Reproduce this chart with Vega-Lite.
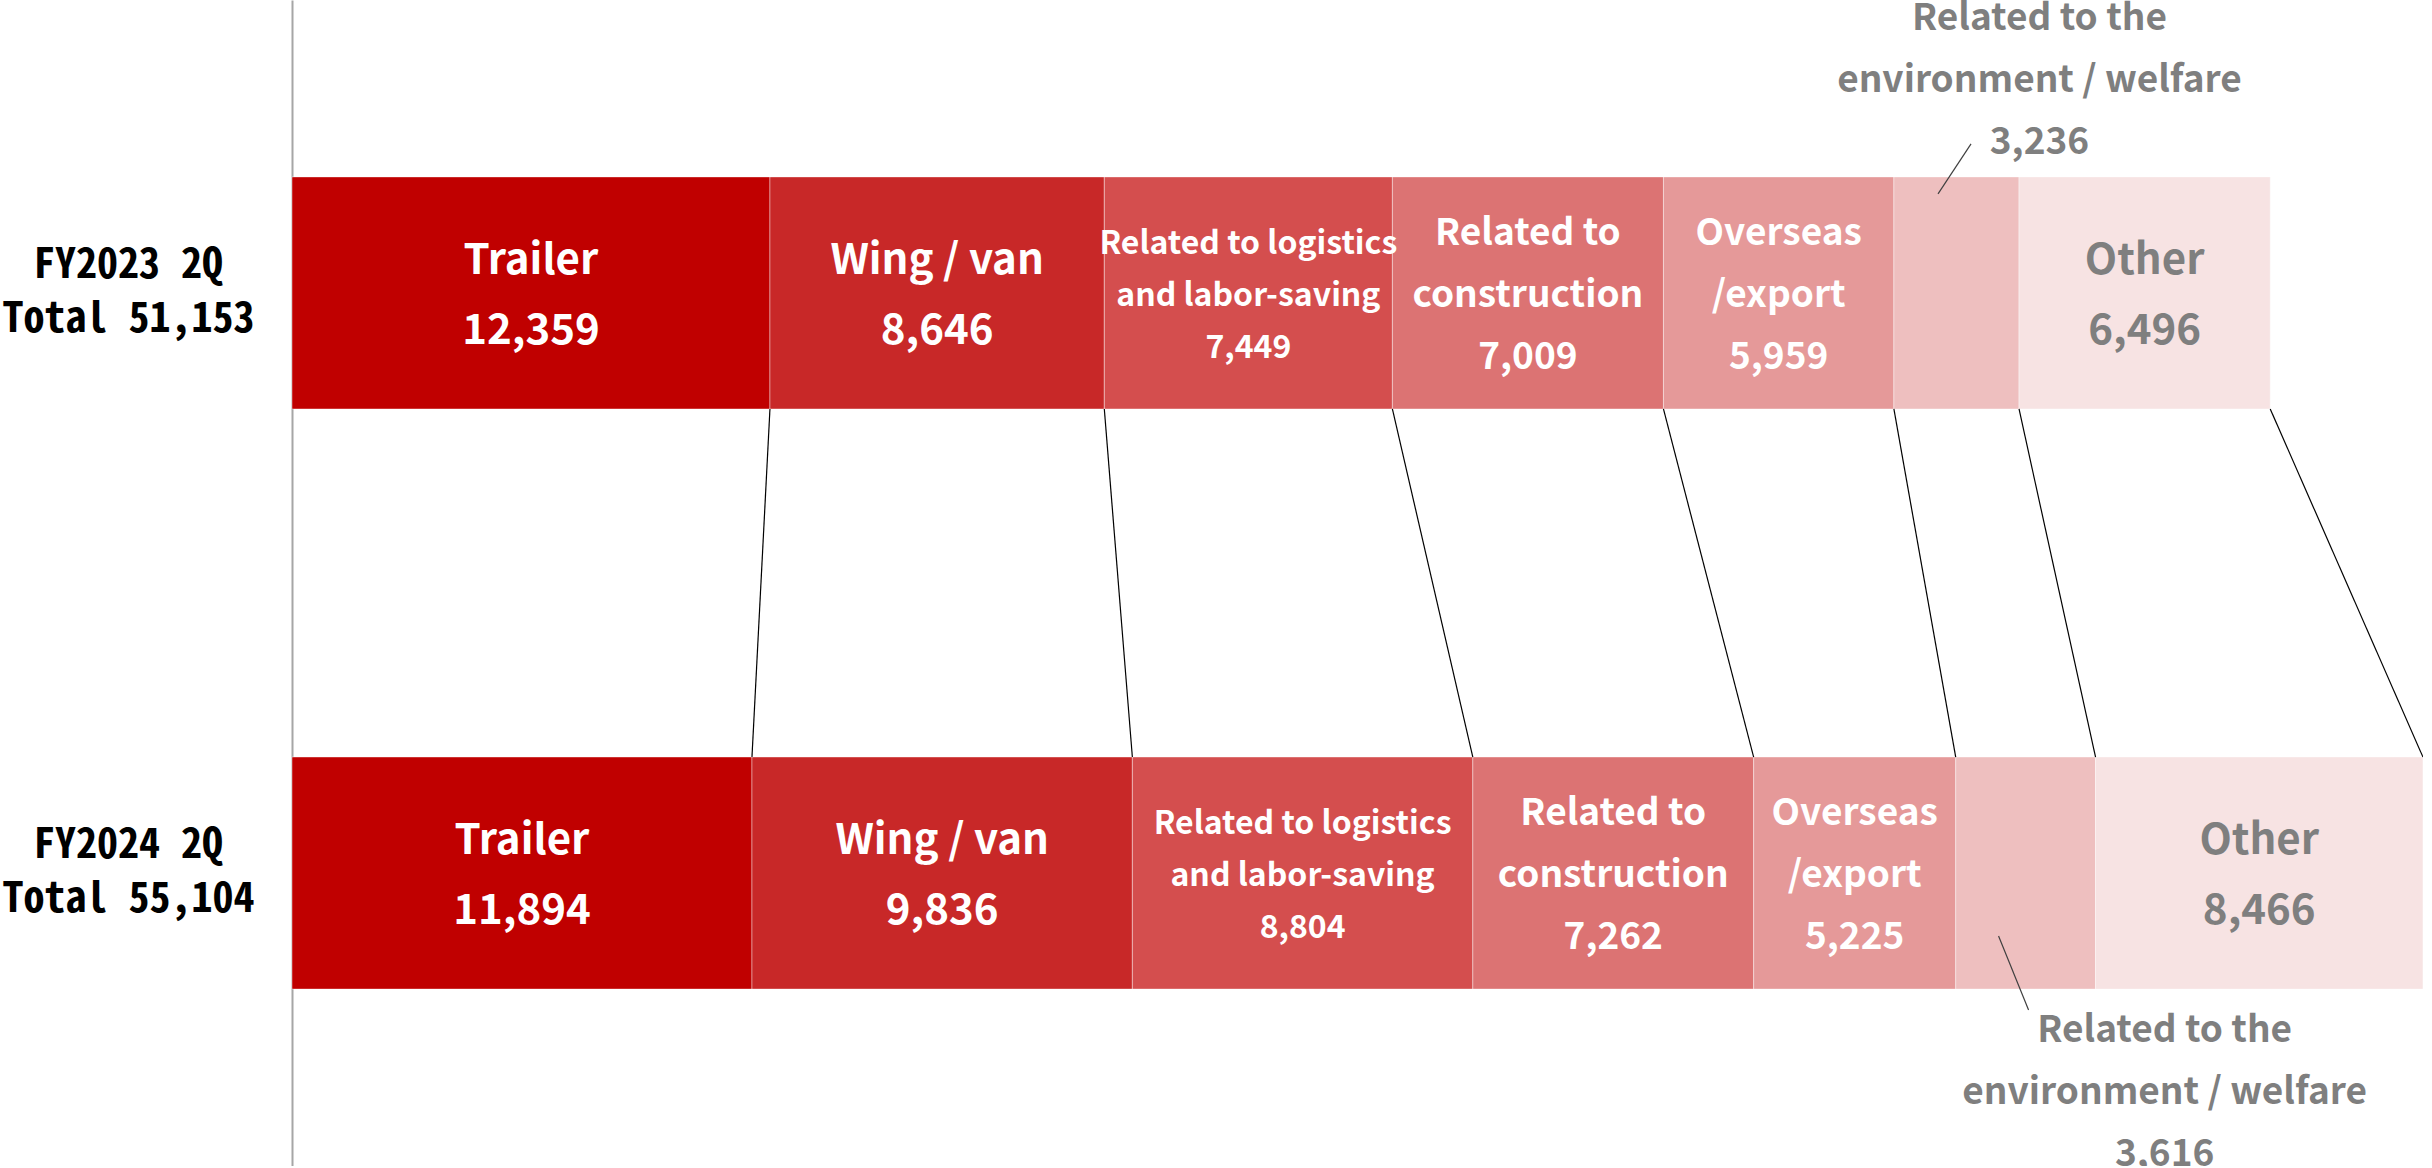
{
  "$schema": "https://vega.github.io/schema/vega-lite/v6.json",
  "width": 2131,
  "height": 1166,
  "autosize": {"type": "none"},
  "padding": {"left": 292, "top": 0, "right": 0, "bottom": 0},
  "background": "#ffffff",
  "config": {"view": {"stroke": null}},
  "data": {
    "values": [
      {"period": "FY2023 2Q", "category": "Trailer", "seq": 1, "value": 12359, "lines": ["Trailer", "12,359"]},
      {"period": "FY2023 2Q", "category": "Wing / van", "seq": 2, "value": 8646, "lines": ["Wing / van", "8,646"]},
      {"period": "FY2023 2Q", "category": "Logistics and labor-saving", "seq": 3, "value": 7449, "lines": ["Related to logistics", "and labor-saving", "7,449"]},
      {"period": "FY2023 2Q", "category": "Construction", "seq": 4, "value": 7009, "lines": ["Related to", "construction", "7,009"]},
      {"period": "FY2023 2Q", "category": "Overseas / export", "seq": 5, "value": 5959, "lines": ["Overseas", "/export", "5,959"]},
      {"period": "FY2023 2Q", "category": "Environment / welfare", "seq": 6, "value": 3236, "lines": ["Related to the", "environment / welfare", "3,236"]},
      {"period": "FY2023 2Q", "category": "Other", "seq": 7, "value": 6496, "lines": ["Other", "6,496"]},
      {"period": "FY2024 2Q", "category": "Trailer", "seq": 1, "value": 11894, "lines": ["Trailer", "11,894"]},
      {"period": "FY2024 2Q", "category": "Wing / van", "seq": 2, "value": 9836, "lines": ["Wing / van", "9,836"]},
      {"period": "FY2024 2Q", "category": "Logistics and labor-saving", "seq": 3, "value": 8804, "lines": ["Related to logistics", "and labor-saving", "8,804"]},
      {"period": "FY2024 2Q", "category": "Construction", "seq": 4, "value": 7262, "lines": ["Related to", "construction", "7,262"]},
      {"period": "FY2024 2Q", "category": "Overseas / export", "seq": 5, "value": 5225, "lines": ["Overseas", "/export", "5,225"]},
      {"period": "FY2024 2Q", "category": "Environment / welfare", "seq": 6, "value": 3616, "lines": ["Related to the", "environment / welfare", "3,616"]},
      {"period": "FY2024 2Q", "category": "Other", "seq": 7, "value": 8466, "lines": ["Other", "8,466"]}
    ]
  },
  "layer": [
    {
      "mark": {"type": "bar", "stroke": "#ffffff", "strokeWidth": 1, "strokeOpacity": 0.4},
      "encoding": {
        "y": {
          "field": "period",
          "type": "nominal",
          "scale": {"domain": ["FY2023 2Q", "FY2024 2Q"], "paddingInner": 0.6, "paddingOuter": 0.305},
          "axis": {
            "title": null,
            "domainColor": "#a6a6a6",
            "domainWidth": 2,
            "ticks": false,
            "grid": false,
            "labelFont": "Noto Sans Mono CJK JP",
            "labelFontSize": 42,
            "labelFontWeight": "bold",
            "labelColor": "#000000",
            "labelAlign": "center",
            "labelBaseline": "middle",
            "labelPadding": 164,
            "labelLineHeight": 54,
            "labelOffset": -28,
            "labelLimit": 500,
            "labelExpr": "datum.value == 'FY2023 2Q' ? ['FY2023 2Q', 'Total 51,153'] : ['FY2024 2Q', 'Total 55,104']"
          }
        },
        "x": {"field": "value", "type": "quantitative", "stack": "zero", "scale": {"domain": [0, 55104], "nice": false}, "axis": null},
        "color": {
          "field": "category",
          "type": "nominal",
          "scale": {
            "domain": ["Trailer", "Wing / van", "Logistics and labor-saving", "Construction", "Overseas / export", "Environment / welfare", "Other"],
            "range": ["#c00000", "#c82828", "#d44e4e", "#dc7373", "#e59999", "#eebfbf", "#f7e3e3"]
          },
          "legend": null
        },
        "order": {"field": "seq", "type": "quantitative"}
      }
    },
    {
      "transform": [
        {"window": [{"op": "sum", "field": "value", "as": "cum"}], "groupby": ["period"], "sort": [{"field": "seq"}], "frame": [null, 0]},
        {"pivot": "period", "value": "cum", "groupby": ["seq"]}
      ],
      "mark": {"type": "rule", "color": "#000000", "strokeWidth": 1.2},
      "encoding": {
        "x": {"field": "FY2023 2Q", "type": "quantitative"},
        "x2": {"field": "FY2024 2Q"},
        "y": {"datum": "FY2023 2Q", "type": "nominal", "bandPosition": 1},
        "y2": {"datum": "FY2024 2Q", "bandPosition": 0}
      }
    },
    {
      "transform": [
        {"window": [{"op": "sum", "field": "value", "as": "cum"}], "groupby": ["period"], "sort": [{"field": "seq"}], "frame": [null, 0]},
        {"filter": "datum.category == 'Environment / welfare' && datum.period == 'FY2023 2Q'"}
      ],
      "mark": {"type": "rule", "color": "#404040", "strokeWidth": 1.2, "xOffset": -48, "x2Offset": -81, "yOffset": -149, "y2Offset": -99},
      "encoding": {
        "x": {"field": "cum", "type": "quantitative"},
        "x2": {"field": "cum"},
        "y": {"field": "period", "type": "nominal"},
        "y2": {"field": "period"}
      }
    },
    {
      "transform": [
        {"window": [{"op": "sum", "field": "value", "as": "cum"}], "groupby": ["period"], "sort": [{"field": "seq"}], "frame": [null, 0]},
        {"filter": "datum.category == 'Environment / welfare' && datum.period == 'FY2024 2Q'"}
      ],
      "mark": {"type": "rule", "color": "#404040", "strokeWidth": 1.2, "xOffset": -97, "x2Offset": -67, "yOffset": 63, "y2Offset": 137},
      "encoding": {
        "x": {"field": "cum", "type": "quantitative"},
        "x2": {"field": "cum"},
        "y": {"field": "period", "type": "nominal"},
        "y2": {"field": "period"}
      }
    },
    {
      "mark": {"type": "text", "font": "Noto Sans CJK JP", "fontWeight": "bold", "fontSize": 42, "lineHeight": 70, "align": "center", "baseline": "middle", "dy": -32},
      "encoding": {
        "y": {"field": "period", "type": "nominal"},
        "x": {"field": "value", "type": "quantitative", "stack": "zero", "bandPosition": 0.5},
        "detail": {"field": "category", "type": "nominal"},
        "order": {"field": "seq", "type": "quantitative"},
        "text": {"condition": {"test": "indexof(['Trailer', 'Wing / van', 'Other'], datum.category) >= 0", "field": "lines", "type": "nominal"}, "value": ""},
        "color": {"condition": {"test": "datum.category == 'Other'", "value": "#7f7f7f"}, "value": "#ffffff"}
      }
    },
    {
      "mark": {"type": "text", "font": "Noto Sans CJK JP", "fontWeight": "bold", "fontSize": 37, "lineHeight": 62, "align": "center", "baseline": "middle", "color": "#ffffff", "dy": -59},
      "encoding": {
        "y": {"field": "period", "type": "nominal"},
        "x": {"field": "value", "type": "quantitative", "stack": "zero", "bandPosition": 0.5},
        "detail": {"field": "category", "type": "nominal"},
        "order": {"field": "seq", "type": "quantitative"},
        "text": {"condition": {"test": "indexof(['Construction', 'Overseas / export'], datum.category) >= 0", "field": "lines", "type": "nominal"}, "value": ""}
      }
    },
    {
      "mark": {"type": "text", "font": "Noto Sans CJK JP", "fontWeight": "bold", "fontSize": 32, "lineHeight": 52, "align": "center", "baseline": "middle", "color": "#ffffff", "dy": -49},
      "encoding": {
        "y": {"field": "period", "type": "nominal"},
        "x": {"field": "value", "type": "quantitative", "stack": "zero", "bandPosition": 0.5},
        "detail": {"field": "category", "type": "nominal"},
        "order": {"field": "seq", "type": "quantitative"},
        "text": {"condition": {"test": "datum.category == 'Logistics and labor-saving'", "field": "lines", "type": "nominal"}, "value": ""}
      }
    },
    {
      "mark": {"type": "text", "font": "Noto Sans CJK JP", "fontWeight": "bold", "fontSize": 37, "lineHeight": 62, "align": "center", "baseline": "middle", "color": "#7f7f7f", "dx": 83, "dy": -274},
      "encoding": {
        "y": {"field": "period", "type": "nominal"},
        "x": {"field": "value", "type": "quantitative", "stack": "zero", "bandPosition": 0.5},
        "detail": {"field": "category", "type": "nominal"},
        "order": {"field": "seq", "type": "quantitative"},
        "text": {"condition": {"test": "datum.category == 'Environment / welfare' && datum.period == 'FY2023 2Q'", "field": "lines", "type": "nominal"}, "value": ""}
      }
    },
    {
      "mark": {"type": "text", "font": "Noto Sans CJK JP", "fontWeight": "bold", "fontSize": 37, "lineHeight": 62, "align": "center", "baseline": "middle", "color": "#7f7f7f", "dx": 139, "dy": 158},
      "encoding": {
        "y": {"field": "period", "type": "nominal"},
        "x": {"field": "value", "type": "quantitative", "stack": "zero", "bandPosition": 0.5},
        "detail": {"field": "category", "type": "nominal"},
        "order": {"field": "seq", "type": "quantitative"},
        "text": {"condition": {"test": "datum.category == 'Environment / welfare' && datum.period == 'FY2024 2Q'", "field": "lines", "type": "nominal"}, "value": ""}
      }
    }
  ]
}
